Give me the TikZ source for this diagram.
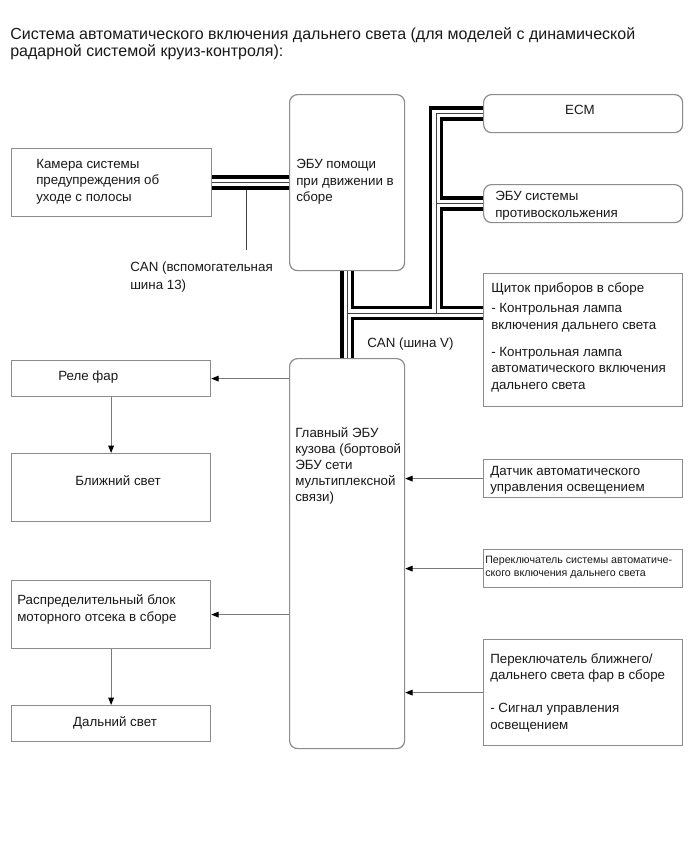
\documentclass[tikz,border=0pt]{standalone}
\usepackage{fontspec}
\setmainfont{Liberation Sans}
\usetikzlibrary{positioning, arrows.meta}

\definecolor{boxgray}{HTML}{8C8C8C}
\definecolor{linegray}{HTML}{7A7A7A}

\tikzset{
  box/.style={draw=boxgray, line width=0.9pt, anchor=north west, inner sep=0pt},
  rbox/.style={box, rounded corners=6pt},
  wh/.style 2 args={minimum width=#1*0.75pt, minimum height=#2*0.75pt},
  txt/.style={anchor=north west, inner sep=0pt, align=left, text=black!90,
    font=\fontsize{10}{12.4}\selectfont},
  sig/.style={draw=linegray, line width=0.8pt,
    -{Triangle[length=5.5pt, width=4.2pt, color=black]}},
  canbus/.style={line width=2.8pt, double=white, double distance=5.4pt},
  canmid/.style={draw=black!75, line width=0.7pt},
}

\begin{document}
\begin{tikzpicture}[x=0.75pt, y=-0.75pt]

\fill[white] (0,0) rectangle (690,854);
\useasboundingbox (0,0) rectangle (690,854);

% heading
\node[txt, font=\fontsize{12}{12.9}\selectfont] (title) at (10,27)
  {Система автоматического включения дальнего света (для моделей с динамической\\
   радарной системой круиз-контроля):};

% left column
\node[box, wh={200}{68}] (cam) at (11,148) {};
\node[box, wh={199}{36}] (relay) at (11,360) {};
\node[box, wh={199}{68}] (low) at (11,453) {};
\node[box, wh={199}{68}] (dist) at (11,580) {};
\node[box, wh={199}{36}] (high) at (11,705) {};

% middle column
\node[rbox, wh={115}{176}] (assist) at (289,94) {};
\node[rbox, wh={115}{390}] (mainecu) at (289,358) {};

% right column
\node[rbox, wh={199}{38}] (ecm) at (483,94) {};
\node[rbox, wh={199}{38}] (abs) at (483,184) {};
\node[box, wh={199}{133}] (cluster) at (483,273) {};
\node[box, wh={199}{38}] (sensor) at (483,459) {};
\node[box, wh={199}{38}] (switch) at (483,549) {};
\node[box, wh={199}{106}] (dimmer) at (483,639) {};

% texts
\node[txt] (camt) at (36,159) {Камера системы\\предупреждения об\\уходе с полосы};
\node[txt] (relayt) at (58,371) {Реле фар};
\node[txt, anchor=center] (lowt) at (118,481) {Ближний свет};
\node[txt, font=\fontsize{10}{12.8}\selectfont] (distt) at (17,594)
  {Распределительный блок\\моторного отсека в сборе};
\node[txt, anchor=center] (hight) at (115,723) {Дальний свет};

\node[txt] (assistt) at (296,159) {ЭБУ помощи\\при движении в\\сборе};
\node[txt, font=\fontsize{10}{12}\selectfont] (mainecut) at (295,427)
  {Главный ЭБУ\\кузова (бортовой\\ЭБУ сети\\мультиплексной\\связи)};

\node[txt, anchor=center] (ecmt) at (580,110) {ECM};
\node[txt, font=\fontsize{10}{12.8}\selectfont] (abst) at (495,191)
  {ЭБУ системы\\противоскольжения};
\node[txt] (clustert) at (491,282)
  {Щиток приборов в сборе\\[3pt]
   - Контрольная лампа\\включения дальнего света\\[8pt]
   - Контрольная лампа\\автоматического включения\\дальнего света};
\node[txt] (sensort) at (490,466) {Датчик автоматического\\управления освещением};
\node[txt, font=\fontsize{8}{9.75}\selectfont] (switcht) at (485,556)
  {Переключатель системы автоматиче-\\ского включения дальнего света};
\node[txt] (dimmert) at (490,653)
  {Переключатель ближнего/\\дальнего света фар в сборе\\[12.5pt]
   - Сигнал управления\\освещением};

% bus labels
\node[txt, font=\fontsize{10}{12.8}\selectfont] (can13) at (130,262)
  {CAN (вспомогательная\\шина 13)};
\node[txt, anchor=west] (canv) at (367,344) {CAN (шина V)};

% CAN lines
\coordinate (jbus) at (346.5,313);
\coordinate (jecm) at (436,313);
\coordinate (stubtop) at (246,189.5);
\coordinate (stubend) at (246,250);

\draw[canbus] (assist.south) -- (mainecu.north)
  (jbus) -- (jbus -| cluster.west)
  (jecm) |- (ecm.west)
  (jecm |- abs.west) -- (abs.west)
  (cam.east) -- (cam.east -| assist.west);
\draw[canmid] (assist.south) -- (mainecu.north)
  (jbus) -- (jbus -| cluster.west)
  (jecm) |- (ecm.west)
  (jecm |- abs.west) -- (abs.west)
  (cam.east) -- (cam.east -| assist.west);
\draw[canmid] (stubtop) -- (stubend);

% signal lines
\draw[sig] (mainecu.west |- relay.east) -- (relay.east);
\draw[sig] (mainecu.west |- dist.east) -- (dist.east);
\draw[sig] (relay.south) -- (low.north);
\draw[sig] (dist.south) -- (high.north);
\draw[sig] (sensor.west) -- (sensor.west -| mainecu.east);
\draw[sig] (switch.west) -- (switch.west -| mainecu.east);
\draw[sig] (dimmer.west) -- (dimmer.west -| mainecu.east);

\end{tikzpicture}
\end{document}
